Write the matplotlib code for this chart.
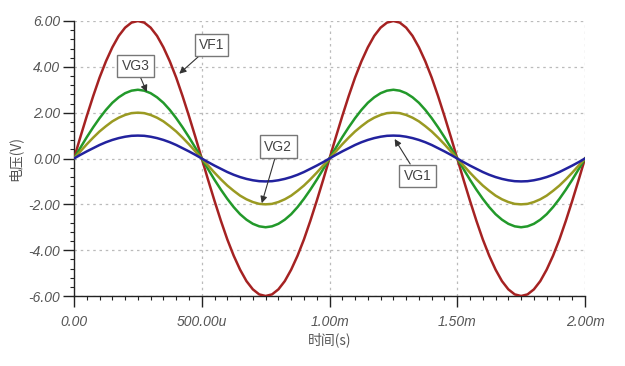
import matplotlib
matplotlib.use("Agg")
import matplotlib.pyplot as plt
from matplotlib.ticker import MultipleLocator

plt.rcParams['font.family'] = ['Liberation Sans', 'Noto Sans CJK SC', 'DejaVu Sans']

# time in microseconds, samples every 25 us
t_us = [0, 25, 50, 75, 100, 125, 150, 175, 200, 225, 250, 275, 300, 325, 350, 375, 400, 425, 450, 475,
        500, 525, 550, 575, 600, 625, 650, 675, 700, 725, 750, 775, 800, 825, 850, 875, 900, 925, 950, 975,
        1000, 1025, 1050, 1075, 1100, 1125, 1150, 1175, 1200, 1225, 1250, 1275, 1300, 1325, 1350, 1375,
        1400, 1425, 1450, 1475, 1500, 1525, 1550, 1575, 1600, 1625, 1650, 1675, 1700, 1725, 1750, 1775,
        1800, 1825, 1850, 1875, 1900, 1925, 1950, 1975, 2000]

vf1 = [0, 0.94, 1.85, 2.72, 3.53, 4.24, 4.85, 5.35, 5.71, 5.93, 6.00, 5.93, 5.71, 5.35, 4.85, 4.24,
       3.53, 2.72, 1.85, 0.94, 0, -0.94, -1.85, -2.72, -3.53, -4.24, -4.85, -5.35, -5.71, -5.93, -6.00,
       -5.93, -5.71, -5.35, -4.85, -4.24, -3.53, -2.72, -1.85, -0.94,
       0, 0.94, 1.85, 2.72, 3.53, 4.24, 4.85, 5.35, 5.71, 5.93, 6.00, 5.93, 5.71, 5.35, 4.85, 4.24,
       3.53, 2.72, 1.85, 0.94, 0, -0.94, -1.85, -2.72, -3.53, -4.24, -4.85, -5.35, -5.71, -5.93, -6.00,
       -5.93, -5.71, -5.35, -4.85, -4.24, -3.53, -2.72, -1.85, -0.94, 0]
vg3 = [0, 0.47, 0.93, 1.36, 1.76, 2.12, 2.43, 2.67, 2.85, 2.96, 3.00, 2.96, 2.85, 2.67, 2.43, 2.12,
       1.76, 1.36, 0.93, 0.47, 0, -0.47, -0.93, -1.36, -1.76, -2.12, -2.43, -2.67, -2.85, -2.96, -3.00,
       -2.96, -2.85, -2.67, -2.43, -2.12, -1.76, -1.36, -0.93, -0.47,
       0, 0.47, 0.93, 1.36, 1.76, 2.12, 2.43, 2.67, 2.85, 2.96, 3.00, 2.96, 2.85, 2.67, 2.43, 2.12,
       1.76, 1.36, 0.93, 0.47, 0, -0.47, -0.93, -1.36, -1.76, -2.12, -2.43, -2.67, -2.85, -2.96, -3.00,
       -2.96, -2.85, -2.67, -2.43, -2.12, -1.76, -1.36, -0.93, -0.47, 0]
vg2 = [0, 0.31, 0.62, 0.91, 1.18, 1.41, 1.62, 1.78, 1.90, 1.98, 2.00, 1.98, 1.90, 1.78, 1.62, 1.41,
       1.18, 0.91, 0.62, 0.31, 0, -0.31, -0.62, -0.91, -1.18, -1.41, -1.62, -1.78, -1.90, -1.98, -2.00,
       -1.98, -1.90, -1.78, -1.62, -1.41, -1.18, -0.91, -0.62, -0.31,
       0, 0.31, 0.62, 0.91, 1.18, 1.41, 1.62, 1.78, 1.90, 1.98, 2.00, 1.98, 1.90, 1.78, 1.62, 1.41,
       1.18, 0.91, 0.62, 0.31, 0, -0.31, -0.62, -0.91, -1.18, -1.41, -1.62, -1.78, -1.90, -1.98, -2.00,
       -1.98, -1.90, -1.78, -1.62, -1.41, -1.18, -0.91, -0.62, -0.31, 0]
vg1 = [0, 0.16, 0.31, 0.45, 0.59, 0.71, 0.81, 0.89, 0.95, 0.99, 1.00, 0.99, 0.95, 0.89, 0.81, 0.71,
       0.59, 0.45, 0.31, 0.16, 0, -0.16, -0.31, -0.45, -0.59, -0.71, -0.81, -0.89, -0.95, -0.99, -1.00,
       -0.99, -0.95, -0.89, -0.81, -0.71, -0.59, -0.45, -0.31, -0.16,
       0, 0.16, 0.31, 0.45, 0.59, 0.71, 0.81, 0.89, 0.95, 0.99, 1.00, 0.99, 0.95, 0.89, 0.81, 0.71,
       0.59, 0.45, 0.31, 0.16, 0, -0.16, -0.31, -0.45, -0.59, -0.71, -0.81, -0.89, -0.95, -0.99, -1.00,
       -0.99, -0.95, -0.89, -0.81, -0.71, -0.59, -0.45, -0.31, -0.16, 0]

series_names = ["VF1", "VG3", "VG2", "VG1"]
series_colors = ["#A52222", "#22992A", "#9A9A22", "#22229E"]

x_ticks_us = [0, 500, 1000, 1500, 2000]
x_tick_labels = ["0.00", "500.00u", "1.00m", "1.50m", "2.00m"]
y_ticks = [-6, -4, -2, 0, 2, 4, 6]
y_tick_labels = ["-6.00", "-4.00", "-2.00", "0.00", "2.00", "4.00", "6.00"]

t = [v * 1e-6 for v in t_us]

fig = plt.figure(figsize=(6.25, 3.66), dpi=100)
ax = fig.add_axes([74/625, 1-296/366, (585-74)/625, (296-21)/366])

for y, c in zip([vf1, vg3, vg2, vg1], series_colors):
    ax.plot(t, y, color=c, lw=1.8, zorder=3)

ax.set_xlim(0, 2e-3)
ax.set_ylim(-6, 6)
ax.set_xticks([v * 1e-6 for v in x_ticks_us])
ax.set_xticklabels(x_tick_labels)
ax.set_yticks(y_ticks)
ax.set_yticklabels(y_tick_labels)
ax.xaxis.set_minor_locator(MultipleLocator(50e-6))
ax.yaxis.set_minor_locator(MultipleLocator(0.4))

ax.grid(True, which='major', linestyle=(0, (2, 3)), color='#bbbbbb', lw=0.9)
for s in ['top', 'right']:
    ax.spines[s].set_visible(False)
for s in ['left', 'bottom']:
    ax.spines[s].set_color('#222222')
    ax.spines[s].set_linewidth(1.0)

ax.tick_params(which='major', direction='out', length=8, width=1, color='#222222',
               labelsize=10, labelcolor='#555555')
ax.tick_params(which='minor', direction='out', length=3, width=0.8, color='#222222')
for lab in ax.get_xticklabels() + ax.get_yticklabels():
    lab.set_fontstyle('italic')
ax.tick_params(axis='x', pad=6)
ax.tick_params(axis='y', pad=2)

ax.set_xlabel("时间(s)", fontsize=10, color='#555555', labelpad=2,
              family=['Noto Sans CJK SC', 'DejaVu Sans'])
ax.set_ylabel("电压(V)", fontsize=10, color='#555555', labelpad=4,
              family=['Noto Sans CJK SC', 'DejaVu Sans'])

bbox = dict(boxstyle='square,pad=0.3', fc='white', ec='#777777', lw=1)
arrow = dict(arrowstyle='-|>', color='#333333', lw=0.8, mutation_scale=10,
             shrinkA=0, shrinkB=0)
# (label, target time us, target value, text time us, text value)
ann_pos = [
    ("VF1", 412, 3.7, 488, 4.95),
    ("VG3", 285, 2.9, 186, 4.05),
    ("VG2", 735, -1.95, 745, 0.52),
    ("VG1", 1255, 0.85, 1290, -0.75),
]
for name, tx, ty, lx, ly in ann_pos:
    ax.annotate(name, xy=(tx * 1e-6, ty), xytext=(lx * 1e-6, ly),
                fontsize=10, color='#444444', bbox=bbox, arrowprops=arrow,
                ha='left', va='center', zorder=5)

fig.savefig("out.png", dpi=100, facecolor='white')
